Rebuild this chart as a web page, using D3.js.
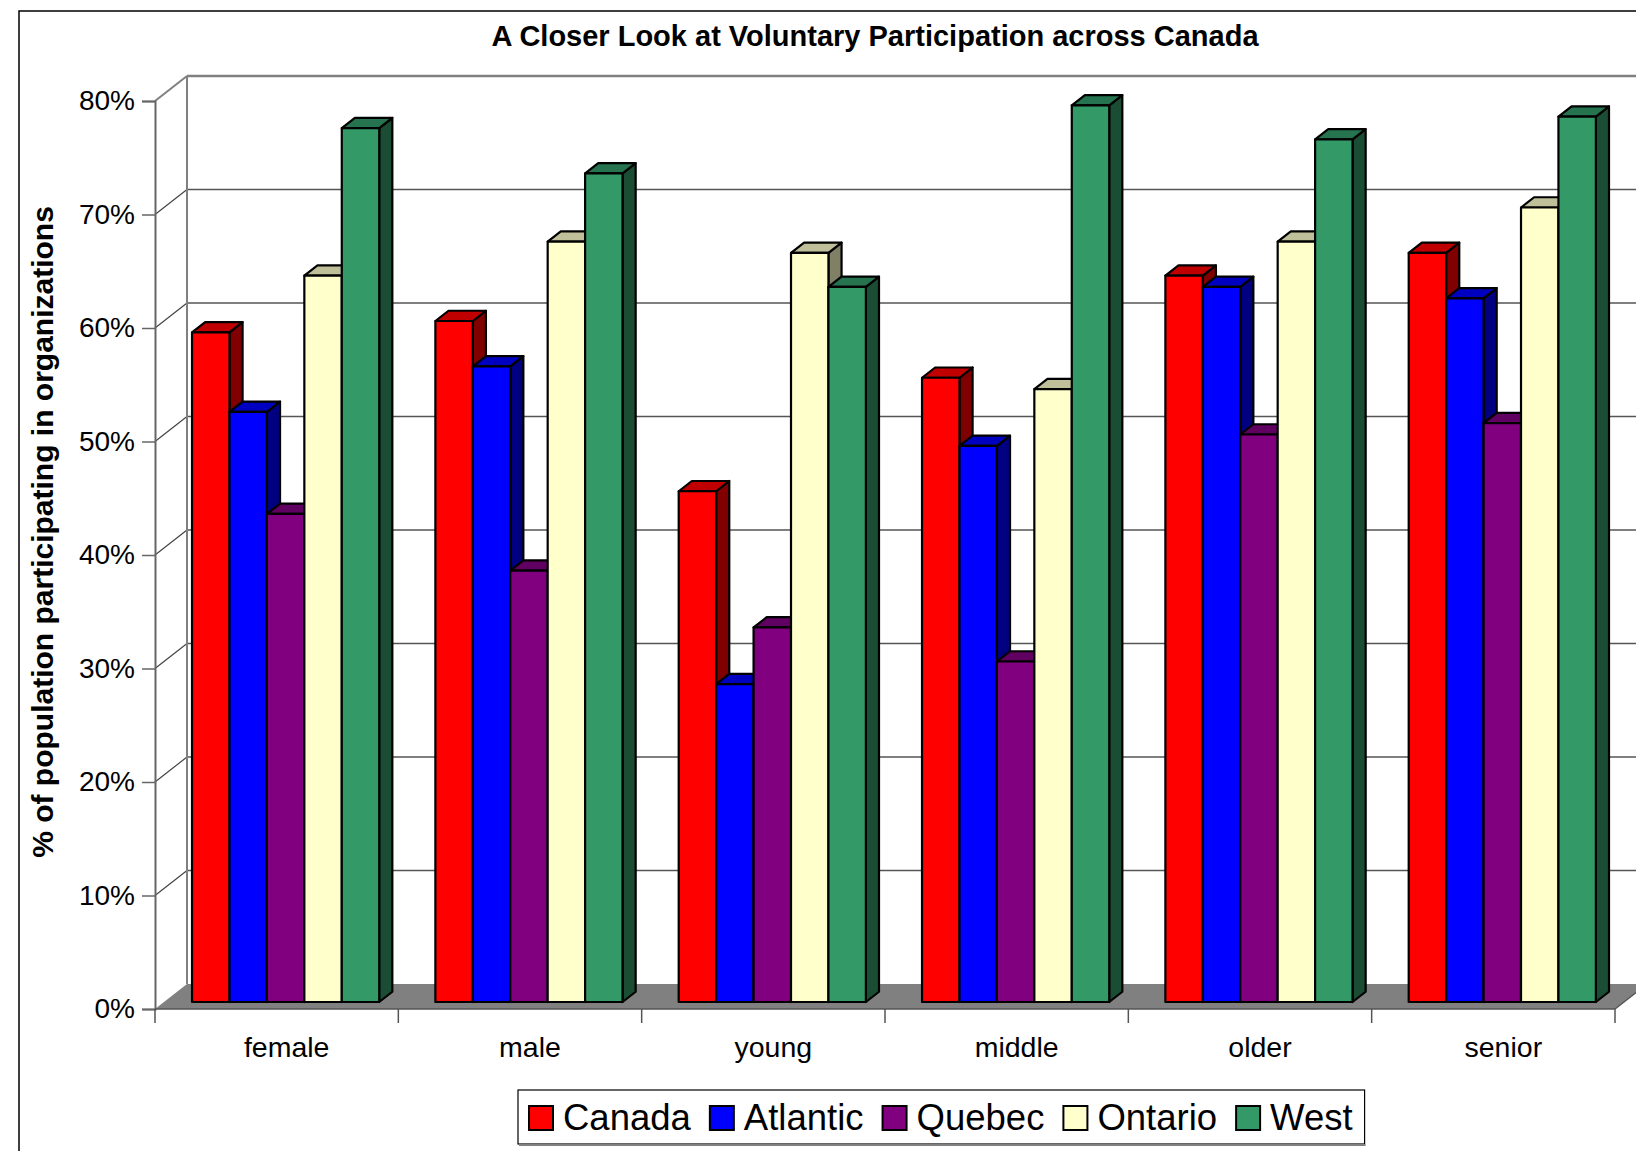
<!DOCTYPE html>
<html>
<head>
<meta charset="utf-8">
<script src="https://cdn.jsdelivr.net/npm/d3@7"></script>
<style>
  body { margin: 0; background: #fff; }
  svg { display: block; font-family: Arial, "Liberation Sans", sans-serif; }
</style>
</head>
<body>
<svg id="chart" width="1636" height="1151"></svg>
<script>
// data
const categories = ["female", "male", "young", "middle", "older", "senior"];
const series = ["Canada", "Atlantic", "Quebec", "Ontario", "West"];
const canada   = [59, 60, 45, 55, 64, 66];
const atlantic = [52, 56, 28, 49, 63, 62];
const quebec   = [43, 38, 33, 30, 50, 51];
const ontario  = [64, 67, 66, 54, 67, 70];
const west     = [77, 73, 63, 79, 76, 78];
const yTicks = [0, 10, 20, 30, 40, 50, 60, 70, 80];

const seriesValues = [canada, atlantic, quebec, ontario, west];
// front / side / top colours
const colors = {
  Canada:   ["#ff0000", "#800000", "#c00000"],
  Atlantic: ["#0000ff", "#000080", "#0000c0"],
  Quebec:   ["#800080", "#400040", "#600060"],
  Ontario:  ["#ffffcc", "#808066", "#bfbf99"],
  West:     ["#339966", "#1a4d33", "#267350"]
};

const svg = d3.select("#chart");

// 3d depth of the plot box
const depthX = 32, depthY = -25;
const zFront = 0.28, zBack = 0.69;
const dx = z => depthX * z, dy = z => depthY * z;

const left = 155, right = 1615;
const y = d3.scaleLinear().domain([0, 80]).range([1009, 101]);
const x = d3.scaleBand().domain(categories).range([left, right]);
const xs = d3.scaleBand().domain(series).range([0, x.bandwidth()]).paddingOuter(0.75);

// chart frame
svg.append("rect")
  .attr("x", 19).attr("y", 11).attr("width", 1700).attr("height", 1200)
  .attr("fill", "none").attr("stroke", "#000").attr("stroke-width", 1.5);

// title
svg.append("text")
  .attr("x", 875).attr("y", 46)
  .attr("text-anchor", "middle")
  .style("font-size", "29px").style("font-weight", "bold")
  .text("A Closer Look at Voluntary Participation across Canada");

// floor
const floor = [[left, y(0)], [right, y(0)], [right + depthX, y(0) + depthY], [left + depthX, y(0) + depthY]];
svg.append("polygon")
  .attr("points", floor.map(p => p.join(",")).join(" "))
  .attr("fill", "#808080");

// walls and gridlines
const grid = svg.append("g");
yTicks.filter(t => t > 0).forEach(t => {
  grid.append("line")
    .attr("x1", left).attr("y1", y(t))
    .attr("x2", left + depthX).attr("y2", y(t) + depthY)
    .attr("stroke", t === 80 ? "#808080" : "#444").attr("stroke-width", t === 80 ? 2 : 1.2);
  grid.append("line")
    .attr("x1", left + depthX).attr("y1", y(t) + depthY)
    .attr("x2", 1700).attr("y2", y(t) + depthY)
    .attr("stroke", t === 80 ? "#808080" : "#555").attr("stroke-width", t === 80 ? 2.5 : 1.3);
});
grid.append("line")
  .attr("x1", left + depthX).attr("y1", y(80) + depthY)
  .attr("x2", left + depthX).attr("y2", y(0) + depthY)
  .attr("stroke", "#808080").attr("stroke-width", 2);

// y axis
const yAxis = svg.append("g")
  .attr("transform", `translate(${left},0)`)
  .call(d3.axisLeft(y).tickValues(yTicks).tickFormat(d => d + "%").tickSize(13).tickPadding(7));
yAxis.select(".domain").attr("stroke", "#666").attr("stroke-width", 2);
yAxis.selectAll(".tick line").attr("stroke", "#666").attr("stroke-width", 1.5);
yAxis.selectAll(".tick text")
  .style("font-size", "28px").style("font-family", "Arial, 'Liberation Sans', sans-serif")
  .attr("fill", "#000");

// x axis line and boundary ticks
svg.append("line")
  .attr("x1", left).attr("y1", y(0)).attr("x2", right).attr("y2", y(0))
  .attr("stroke", "#555").attr("stroke-width", 1.5);
svg.append("line")
  .attr("x1", right).attr("y1", y(0)).attr("x2", right + depthX).attr("y2", y(0) + depthY)
  .attr("stroke", "#555").attr("stroke-width", 1.5);
const bounds = categories.map(c => x(c)).concat([right]);
svg.append("g").selectAll("line")
  .data(bounds)
  .join("line")
  .attr("x1", d => d).attr("x2", d => d)
  .attr("y1", y(0)).attr("y2", y(0) + 14)
  .attr("stroke", "#555").attr("stroke-width", 1.5);

svg.append("g").selectAll("text")
  .data(categories)
  .join("text")
  .attr("x", d => x(d) + x.bandwidth() / 2 + 10)
  .attr("y", 1057)
  .attr("text-anchor", "middle")
  .style("font-size", "28.5px")
  .text(d => d);

// bars, drawn left to right so each one covers the side of the previous one
const bars = svg.append("g").attr("stroke", "#000").attr("stroke-width", 2.2).attr("stroke-linejoin", "round");
categories.forEach((cat, ci) => {
  series.forEach((s, si) => {
    const v = seriesValues[si][ci];
    const x0 = x(cat) + xs(s) + dx(zFront);
    const x1 = x0 + xs.bandwidth();
    const top = y(v) + dy(zFront);
    const base = y(0) + dy(zFront);
    const ox = dx(zBack) - dx(zFront), oy = dy(zBack) - dy(zFront);
    const c = colors[s];
    const g = bars.append("g");
    g.append("polygon")
      .attr("points", [[x1, top], [x1 + ox, top + oy], [x1 + ox, base + oy], [x1, base]].map(p => p.join(",")).join(" "))
      .attr("fill", c[1]);
    g.append("polygon")
      .attr("points", [[x0, top], [x0 + ox, top + oy], [x1 + ox, top + oy], [x1, top]].map(p => p.join(",")).join(" "))
      .attr("fill", c[2]);
    g.append("rect")
      .attr("x", x0).attr("y", top)
      .attr("width", x1 - x0).attr("height", base - top)
      .attr("fill", c[0]);
  });
});

// y axis title
svg.append("text")
  .attr("transform", "translate(53,532) rotate(-90)")
  .attr("text-anchor", "middle")
  .style("font-size", "30px").style("font-weight", "bold")
  .text("% of population participating in organizations");

// legend
const legend = svg.append("g");
const legendBox = legend.append("rect")
  .attr("x", 518).attr("y", 1090).attr("height", 54)
  .attr("fill", "#fff").attr("stroke", "#000").attr("stroke-width", 1.2);
let lx = 529;
series.forEach(s => {
  legend.append("rect")
    .attr("x", lx).attr("y", 1106).attr("width", 24).attr("height", 24)
    .attr("fill", colors[s][0]).attr("stroke", "#000").attr("stroke-width", 2);
  const t = legend.append("text")
    .attr("x", lx + 34).attr("y", 1130)
    .style("font-size", "36.5px")
    .text(s);
  lx += 34 + t.node().getComputedTextLength() + 19;
});
legendBox.attr("width", lx - 19 + 12 - 518);
legend.append("line")
  .attr("x1", 519).attr("x2", lx - 19 + 12 + 1).attr("y1", 1145).attr("y2", 1145)
  .attr("stroke", "#808080").attr("stroke-width", 2);
</script>
</body>
</html>
